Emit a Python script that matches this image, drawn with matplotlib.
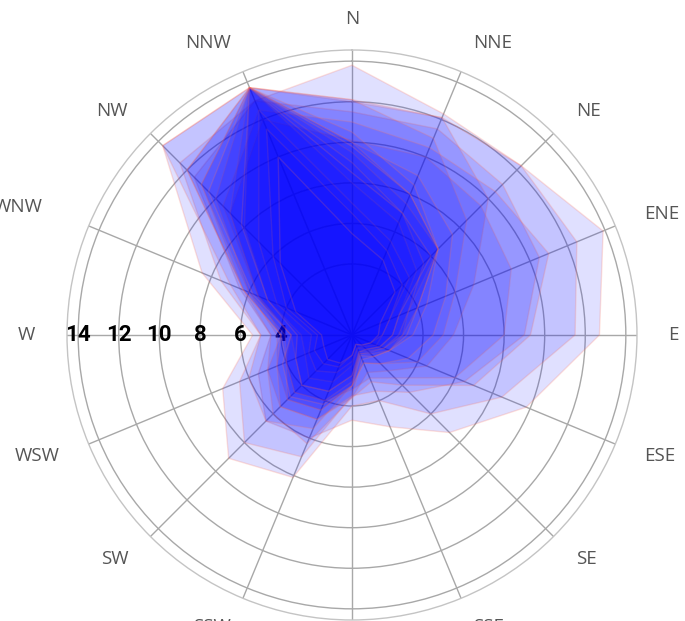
import numpy as np
import matplotlib
matplotlib.use("Agg")
import matplotlib.pyplot as plt

# compass directions, clockwise from north
directions = ["N", "NNE", "NE", "ENE", "E", "ESE", "SE", "SSE",
              "S", "SSW", "SW", "WSW", "W", "WNW", "NW", "NNW"]

# one profile per record, values per direction (same order as above)
core_1 = [9.5, 7.5, 6.5, 3.5, 3.0, 2.5, 1.8, 1.5, 2.5, 3.5, 4.0, 3.5, 3.5, 5.5, 9.0, 13.7]
core_2 = [8.0, 6.5, 5.0, 3.0, 2.5, 2.0, 1.5, 1.2, 2.0, 3.0, 3.5, 3.0, 3.0, 5.0, 8.0, 13.7]
core_3 = [10.0, 8.0, 6.5, 4.0, 3.0, 2.2, 1.6, 1.4, 3.0, 4.5, 5.0, 4.0, 3.8, 6.0, 10.0, 13.7]
core_4 = [7.0, 5.5, 4.5, 2.5, 2.0, 1.8, 1.3, 1.2, 1.8, 2.5, 3.0, 2.8, 2.5, 4.5, 7.0, 12.5]
core_5 = [9.0, 7.0, 5.5, 3.5, 2.8, 2.2, 1.7, 1.5, 2.8, 4.0, 4.5, 4.0, 4.0, 6.3, 11.0, 13.7]
core_6 = [6.5, 5.0, 4.0, 2.5, 2.0, 1.5, 1.2, 1.0, 1.5, 2.2, 2.5, 2.5, 2.2, 4.0, 6.0, 11.5]
core_7 = [10.5, 8.5, 6.5, 4.5, 3.5, 2.5, 2.0, 1.8, 3.5, 5.0, 5.5, 4.5, 4.0, 6.3, 12.0, 13.7]
core_8 = [8.5, 7.0, 6.0, 3.0, 2.5, 2.0, 1.5, 1.4, 2.5, 3.5, 4.0, 3.5, 3.2, 5.0, 8.2, 13.7]
core_9 = [5.5, 4.5, 3.5, 2.0, 1.8, 1.5, 1.2, 1.0, 1.5, 2.0, 2.2, 2.0, 2.0, 3.5, 5.5, 10.0]
core_10 = [9.8, 8.0, 6.5, 4.0, 3.2, 2.5, 2.0, 1.6, 3.0, 4.2, 4.8, 4.2, 3.5, 5.8, 10.5, 13.7]
mid_1 = [12.1, 12.1, 10.0, 7.0, 5.5, 4.5, 3.0, 2.5, 3.6, 5.0, 5.5, 5.0, 4.5, 6.3, 12.0, 13.7]
mid_2 = [10.1, 10.0, 9.5, 9.0, 8.0, 6.0, 3.5, 2.8, 3.2, 4.0, 4.5, 4.0, 3.5, 5.5, 9.0, 12.0]
mid_3 = [12.1, 11.0, 8.5, 6.0, 5.0, 4.0, 2.5, 2.0, 3.0, 4.5, 5.0, 4.5, 4.2, 6.0, 11.0, 13.7]
mid_4 = [11.0, 10.5, 10.5, 11.0, 9.3, 7.0, 4.0, 3.0, 3.6, 6.3, 6.0, 5.0, 4.0, 5.5, 9.5, 12.5]
mid_5 = [10.0, 9.0, 7.5, 5.5, 4.5, 3.5, 2.5, 2.0, 3.0, 5.5, 6.5, 6.0, 5.0, 7.0, 13.7, 13.7]
outer_1 = [13.8, 12.3, 12.3, 13.9, 12.7, 9.8, 7.3, 5.4, 4.7, 6.0, 6.5, 5.5, 4.5, 6.5, 11.5, 13.0]
outer_2 = [12.0, 12.1, 12.3, 12.5, 11.5, 8.5, 6.0, 4.0, 4.0, 8.1, 9.1, 7.4, 5.4, 8.5, 13.7, 13.7]
outer_3 = [11.5, 11.5, 11.0, 10.5, 9.0, 6.5, 4.5, 3.5, 3.5, 7.0, 8.0, 6.5, 5.0, 7.5, 12.5, 13.0]

series = [outer_1, outer_2, outer_3, mid_1, mid_2, mid_3, mid_4, mid_5,
          core_1, core_2, core_3, core_4, core_5, core_6, core_7, core_8,
          core_9, core_10]

ring_ticks = [4, 6, 8, 10, 12, 14]
r_min, r_max = 0.5, 14.55

fig = plt.figure(figsize=(6.85, 6.21), dpi=100)
ax = fig.add_axes([0.0978, 0.0016, 0.8321, 0.9179], projection="polar")
ax.set_theta_zero_location("N")
ax.set_theta_direction(-1)
ax.set_ylim(r_min, r_max)
ax.set_axisbelow(True)

angles = np.deg2rad(np.arange(len(directions)) * 360.0 / len(directions))
closed = np.append(angles, angles[0])

for vals in series:
    r = np.append(vals, vals[0])
    ax.fill(closed, r, facecolor=(0, 0, 1, 0.12),
            edgecolor=(1, 0.45, 0.35, 0.22), linewidth=1.0, zorder=2)

# grid
ax.set_xticks(angles)
ax.set_xticklabels([])
ax.set_yticks(ring_ticks)
ax.set_yticklabels([])
ax.grid(True, color="#a8a8a8", linewidth=1.0)
ax.spines["polar"].set_color("#c4c4c4")
ax.spines["polar"].set_linewidth(1.0)

# compass labels (bottom ones fall off the canvas, as in the source)
for ang, name in zip(angles, directions):
    s = np.sin(ang)
    ha = "left" if s > 0.1 else ("right" if s < -0.1 else "center")
    r_lab = 17.0 if name == "WNW" else 16.1
    ax.text(ang, r_lab, name, ha=ha, va="center", fontsize=13.5,
            family="Open Sans", color="#555555", clip_on=False)

# ring values along west spoke, under the fills
for v in ring_ticks:
    ax.text(np.deg2rad(270), v, str(v), ha="center", va="center",
            fontsize=16, fontweight="bold", family="Roboto",
            color="black", zorder=1.5)

fig.savefig("out.png", dpi=100, facecolor="white")
